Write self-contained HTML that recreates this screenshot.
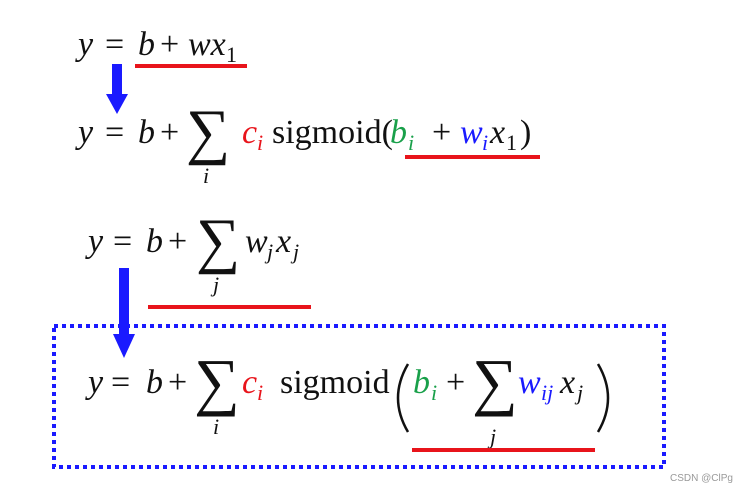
<!DOCTYPE html>
<html><head><meta charset="utf-8"><style>
html,body{margin:0;padding:0;background:#fff;width:736px;height:489px;overflow:hidden}
svg{display:block}
text{font-family:"Liberation Serif","DejaVu Serif",serif;fill:#111}
.i{font-style:italic}
</style></head><body>
<svg width="736" height="489" viewBox="0 0 736 489" xmlns="http://www.w3.org/2000/svg">
<!-- Eq1 -->
<text x="78" y="55" font-size="34" class="i">y</text>
<text x="105" y="55" font-size="34">=</text>
<text x="138" y="55" font-size="34" class="i">b</text>
<text x="160" y="55" font-size="34">+</text>
<text x="188" y="55" font-size="34" class="i">wx</text>
<text x="226" y="62" font-size="22">1</text>
<rect x="135" y="64" width="112" height="4" fill="#e8141b"/>
<!-- arrow1 -->
<rect x="112" y="64" width="10" height="32" fill="#1a1aff"/>
<polygon points="106,94 128,94 117,114" fill="#1a1aff"/>
<!-- Eq2 -->
<text x="78" y="143" font-size="34" class="i">y</text>
<text x="105" y="143" font-size="34">=</text>
<text x="138" y="143" font-size="34" class="i">b</text>
<text x="160" y="143" font-size="34">+</text>
<text x="186" y="152" font-size="62">∑</text>
<text x="203" y="183" font-size="22" class="i">i</text>
<text x="242" y="143" font-size="34" class="i" style="fill:#e8141b">c</text>
<text x="257" y="150" font-size="22" class="i" style="fill:#e8141b">i</text>
<text x="272" y="143" font-size="34">sigmoid(</text>
<text x="390" y="143" font-size="34" class="i" style="fill:#19a04a">b</text>
<text x="408" y="150" font-size="22" class="i" style="fill:#19a04a">i</text>
<text x="432" y="143" font-size="34">+</text>
<text x="460" y="143" font-size="34" class="i" style="fill:#1a1aff">w</text>
<text x="482" y="150" font-size="22" class="i" style="fill:#1a1aff">i</text>
<text x="490" y="143" font-size="34" class="i">x</text>
<text x="506" y="150" font-size="22">1</text>
<text x="520" y="143" font-size="34">)</text>
<rect x="405" y="155" width="135" height="4" fill="#e8141b"/>
<!-- Eq3 -->
<text x="88" y="252" font-size="34" class="i">y</text>
<text x="113" y="252" font-size="34">=</text>
<text x="146" y="252" font-size="34" class="i">b</text>
<text x="168" y="252" font-size="34">+</text>
<text x="196" y="261" font-size="62">∑</text>
<text x="213" y="292" font-size="22" class="i">j</text>
<text x="245" y="252" font-size="34" class="i">w</text>
<text x="267" y="259" font-size="22" class="i">j</text>
<text x="276" y="252" font-size="34" class="i">x</text>
<text x="293" y="259" font-size="22" class="i">j</text>
<rect x="148" y="305" width="163" height="4" fill="#e8141b"/>
<!-- arrow2 -->
<rect x="119" y="268" width="10" height="68" fill="#1a1aff"/>
<polygon points="113,334 135,334 124,358" fill="#1a1aff"/>
<!-- box -->
<rect x="54" y="326" width="610" height="141" fill="none" stroke="#1a1aff" stroke-width="4" stroke-dasharray="4 4"/>
<!-- Eq4 -->
<text x="88" y="393" font-size="34" class="i">y</text>
<text x="111" y="393" font-size="34">=</text>
<text x="146" y="393" font-size="34" class="i">b</text>
<text x="168" y="393" font-size="34">+</text>
<text x="194" y="403" font-size="64">∑</text>
<text x="213" y="434" font-size="22" class="i">i</text>
<text x="242" y="393" font-size="34" class="i" style="fill:#e8141b">c</text>
<text x="257" y="400" font-size="22" class="i" style="fill:#e8141b">i</text>
<text x="280" y="393" font-size="34">sigmoid</text>
<path d="M408,364 Q388,398 408,432" fill="none" stroke="#111" stroke-width="2.5"/>
<text x="413" y="393" font-size="34" class="i" style="fill:#19a04a">b</text>
<text x="431" y="400" font-size="22" class="i" style="fill:#19a04a">i</text>
<text x="446" y="393" font-size="34">+</text>
<text x="472" y="403" font-size="64">∑</text>
<text x="490" y="444" font-size="22" class="i">j</text>
<text x="518" y="393" font-size="34" class="i" style="fill:#1a1aff">w</text>
<text x="541" y="400" font-size="22" class="i" style="fill:#1a1aff">ij</text>
<text x="560" y="393" font-size="34" class="i">x</text>
<text x="577" y="400" font-size="22" class="i">j</text>
<path d="M598,364 Q618,398 598,432" fill="none" stroke="#111" stroke-width="2.5"/>
<rect x="412" y="448" width="183" height="4" fill="#e8141b"/>
<text x="670" y="481" font-size="10" style="fill:#999;font-family:'Liberation Sans',sans-serif">CSDN @ClPg</text>
</svg>
</body></html>
